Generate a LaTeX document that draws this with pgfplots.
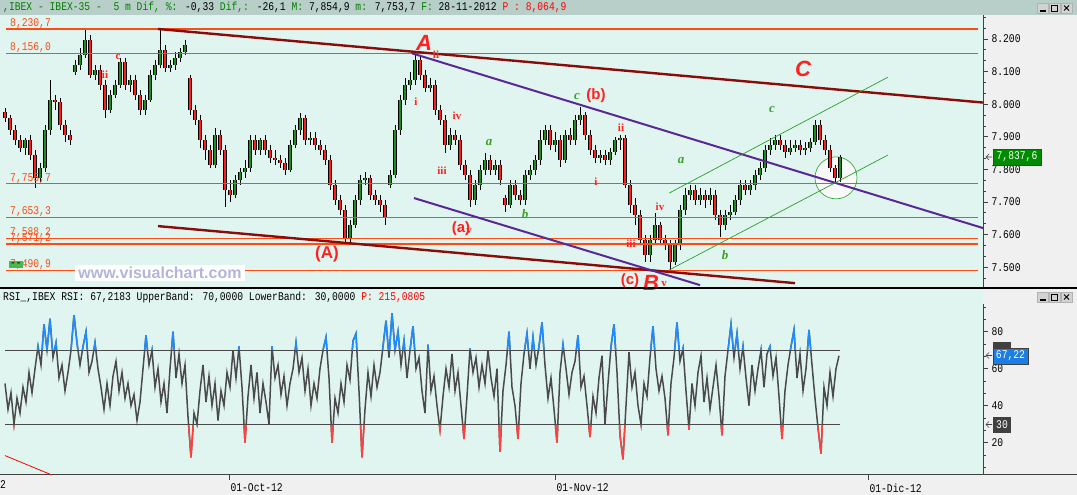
\documentclass[border=0pt]{standalone}
\usepackage{fontspec}
\setmainfont{Liberation Sans}
\newfontfamily\vc[FakeStretch=0.82]{Liberation Mono}
\newfontfamily\serifb{Liberation Serif}
\usepackage{pgfplots}
\pgfplotsset{compat=1.18}
\usepackage{pgfplotstable}

\definecolor{mint}{HTML}{E0F5EF}
\definecolor{panelgray}{HTML}{F0F0F0}
\definecolor{titlebar}{HTML}{B8CEC8}
\definecolor{vcgreen}{HTML}{008000}
\definecolor{lineorange}{HTML}{FF4A14}
\definecolor{maroonline}{HTML}{8B0A0A}
\definecolor{purpleline}{HTML}{5A2896}
\definecolor{chgreen}{HTML}{2AA02A}
\definecolor{candlered}{HTML}{FF1E1E}
\definecolor{candlegreen}{HTML}{1E8C1E}
\definecolor{rsigray}{HTML}{4A4A4A}
\definecolor{rsiblue}{HTML}{1E8CFF}
\definecolor{rsired}{HTML}{FF4040}
\definecolor{wavered}{HTML}{FF2020}
\definecolor{wavegreen}{HTML}{3AA02A}
\definecolor{axisgray}{HTML}{404040}
\definecolor{watermark}{HTML}{B2B5DA}

\newcommand\vcfont{\vc\fontsize{11.8}{12}\selectfont}
\newcommand\wbig{\fontsize{22}{22}\selectfont\bfseries\itshape}
\newcommand\wmid{\fontsize{15}{15}\selectfont\bfseries}
\newcommand\wrom{\serifb\fontsize{11}{11}\selectfont\bfseries}
\newcommand\wgrn{\serifb\fontsize{13}{13}\selectfont\bfseries\itshape}

% 5 m candles: x (px), open, high, low, close
\pgfplotstableread{
x o h l c
5 7.976 7.988 7.945 7.958
10 7.958 7.967 7.905 7.921
15 7.921 7.936 7.875 7.890
20 7.890 7.905 7.853 7.866
25 7.866 7.896 7.844 7.890
30 7.890 7.905 7.829 7.844
35 7.844 7.859 7.743 7.774
40 7.774 7.820 7.761 7.804
45 7.804 7.936 7.792 7.921
50 7.921 8.074 7.905 8.013
55 8.013 8.028 7.982 8.007
60 8.007 8.019 7.921 7.936
65 7.936 7.951 7.884 7.905
70 7.905 7.921 7.875 7.890
75 8.099 8.135 8.090 8.120
80 8.120 8.172 8.105 8.151
85 8.151 8.228 8.142 8.197
90 8.197 8.212 8.080 8.090
95 8.090 8.120 8.074 8.105
100 8.105 8.120 8.043 8.059
105 8.059 8.074 7.958 7.982
110 7.982 8.043 7.973 8.028
115 8.028 8.074 8.019 8.059
120 8.059 8.142 8.050 8.129
125 8.129 8.142 8.043 8.059
130 8.059 8.090 8.037 8.074
135 8.074 8.090 8.013 8.028
140 8.028 8.043 7.967 7.982
145 7.982 8.028 7.967 8.013
150 8.013 8.105 8.007 8.090
155 8.090 8.135 8.074 8.120
160 8.120 8.228 8.111 8.166
165 8.166 8.182 8.099 8.111
170 8.111 8.135 8.099 8.120
175 8.120 8.160 8.105 8.142
180 8.142 8.172 8.129 8.160
185 8.160 8.197 8.151 8.182
190 8.080 8.090 7.967 7.982
195 7.982 7.998 7.936 7.951
200 7.951 7.967 7.866 7.890
205 7.890 7.905 7.829 7.859
210 7.859 7.875 7.804 7.813
215 7.813 7.927 7.804 7.905
220 7.905 7.921 7.844 7.859
225 7.859 7.875 7.685 7.737
230 7.737 7.767 7.700 7.721
235 7.721 7.783 7.712 7.767
240 7.767 7.804 7.752 7.792
245 7.792 7.829 7.774 7.804
250 7.804 7.905 7.792 7.890
255 7.890 7.905 7.844 7.859
260 7.859 7.896 7.844 7.890
265 7.890 7.905 7.844 7.859
270 7.859 7.875 7.820 7.835
275 7.835 7.859 7.813 7.829
280 7.829 7.844 7.804 7.820
285 7.820 7.835 7.783 7.798
290 7.798 7.890 7.792 7.875
295 7.875 7.936 7.866 7.921
300 7.921 7.973 7.905 7.958
305 7.958 7.967 7.875 7.890
310 7.890 7.915 7.875 7.896
315 7.896 7.915 7.859 7.875
320 7.875 7.890 7.844 7.859
325 7.859 7.875 7.813 7.829
330 7.829 7.844 7.737 7.752
335 7.752 7.767 7.691 7.706
340 7.706 7.721 7.660 7.675
345 7.675 7.691 7.574 7.589
350 7.589 7.645 7.574 7.629
355 7.629 7.721 7.620 7.706
360 7.706 7.783 7.691 7.767
365 7.767 7.792 7.752 7.774
370 7.774 7.783 7.706 7.721
375 7.721 7.737 7.691 7.706
380 7.706 7.721 7.669 7.691
385 7.691 7.706 7.629 7.651
390 7.752 7.798 7.743 7.783
395 7.783 7.936 7.774 7.921
400 7.921 8.028 7.905 8.013
405 8.013 8.080 7.998 8.059
410 8.059 8.099 8.043 8.074
415 8.074 8.160 8.059 8.135
420 8.135 8.151 8.074 8.090
425 8.090 8.105 8.037 8.050
430 8.050 8.080 8.037 8.059
435 8.059 8.074 7.967 7.982
440 7.982 7.998 7.936 7.951
445 7.951 7.967 7.850 7.875
450 7.875 7.927 7.859 7.905
455 7.905 7.921 7.875 7.890
460 7.890 7.905 7.798 7.813
465 7.813 7.829 7.767 7.783
470 7.783 7.798 7.685 7.706
475 7.706 7.767 7.691 7.752
480 7.752 7.813 7.737 7.798
485 7.798 7.850 7.783 7.829
490 7.829 7.844 7.783 7.798
495 7.798 7.829 7.783 7.813
500 7.813 7.829 7.752 7.767
505 7.712 7.721 7.669 7.691
510 7.691 7.767 7.681 7.752
515 7.752 7.767 7.706 7.721
520 7.721 7.737 7.691 7.706
525 7.706 7.798 7.691 7.783
530 7.783 7.813 7.767 7.798
535 7.798 7.844 7.783 7.829
540 7.829 7.921 7.813 7.890
545 7.890 7.936 7.875 7.921
550 7.921 7.936 7.859 7.875
555 7.875 7.915 7.853 7.890
560 7.890 7.905 7.807 7.829
565 7.829 7.921 7.820 7.905
570 7.905 7.927 7.875 7.890
575 7.890 7.967 7.875 7.951
580 7.951 7.991 7.936 7.967
585 7.967 7.976 7.890 7.905
590 7.905 7.921 7.844 7.859
595 7.859 7.875 7.820 7.835
600 7.835 7.859 7.820 7.844
605 7.844 7.859 7.813 7.829
610 7.829 7.866 7.813 7.853
615 7.853 7.899 7.844 7.890
620 7.890 7.905 7.859 7.896
625 7.896 7.905 7.743 7.752
630 7.752 7.767 7.666 7.691
635 7.691 7.712 7.629 7.660
640 7.660 7.675 7.568 7.583
645 7.583 7.599 7.516 7.537
650 7.537 7.599 7.516 7.583
655 7.583 7.666 7.568 7.629
660 7.629 7.639 7.568 7.583
665 7.583 7.599 7.553 7.568
670 7.568 7.583 7.491 7.516
675 7.516 7.583 7.507 7.568
680 7.568 7.691 7.553 7.675
685 7.675 7.743 7.660 7.721
690 7.721 7.752 7.706 7.737
695 7.737 7.752 7.691 7.706
700 7.706 7.743 7.691 7.721
705 7.721 7.737 7.681 7.706
710 7.706 7.743 7.691 7.721
715 7.721 7.737 7.645 7.660
720 7.660 7.675 7.593 7.629
725 7.629 7.675 7.614 7.660
730 7.660 7.691 7.645 7.669
735 7.669 7.721 7.660 7.706
740 7.706 7.767 7.691 7.752
745 7.752 7.767 7.721 7.737
750 7.737 7.767 7.721 7.752
755 7.752 7.798 7.737 7.783
760 7.783 7.823 7.767 7.804
765 7.804 7.875 7.792 7.859
770 7.859 7.896 7.844 7.875
775 7.875 7.905 7.859 7.890
780 7.890 7.905 7.859 7.875
785 7.875 7.890 7.835 7.853
790 7.853 7.890 7.844 7.866
795 7.866 7.890 7.853 7.875
800 7.875 7.890 7.844 7.859
805 7.859 7.884 7.844 7.866
810 7.866 7.896 7.853 7.884
815 7.884 7.951 7.875 7.936
820 7.936 7.951 7.875 7.890
825 7.890 7.905 7.844 7.859
830 7.859 7.875 7.792 7.804
835 7.804 7.813 7.761 7.774
840 7.774 7.844 7.761 7.838
}\candles

% RSI, one value every 3 px from x = 5
\pgfplotstableread[row sep=\\]{
r\\
52\\38\\47\\30\\44\\36\\50\\42\\58\\47\\
60\\72\\62\\84\\70\\87\\66\\74\\55\\62\\
48\\58\\70\\89\\74\\62\\72\\80\\58\\64\\
74\\60\\50\\38\\52\\40\\56\\64\\48\\58\\
44\\52\\40\\46\\32\\42\\60\\78\\62\\70\\
50\\60\\42\\52\\36\\60\\80\\55\\68\\52\\
62\\34\\12\\36\\30\\48\\62\\42\\56\\40\\
52\\32\\48\\40\\58\\50\\70\\55\\72\\50\\
20\\45\\62\\44\\58\\36\\52\\42\\30\\72\\
55\\62\\46\\56\\40\\52\\60\\74\\58\\66\\
48\\60\\40\\52\\44\\60\\70\\77\\55\\20\\
44\\36\\52\\42\\62\\54\\75\\79\\48\\12\\
38\\58\\45\\62\\50\\58\\72\\86\\66\\90\\
70\\80\\62\\75\\55\\70\\83\\60\\66\\48\\
36\\73\\48\\56\\40\\27\\45\\60\\50\\68\\
48\\58\\40\\22\\45\\71\\58\\66\\50\\62\\
52\\70\\55\\45\\60\\15\\48\\62\\80\\50\\
40\\22\\52\\68\\79\\60\\77\\62\\72\\85\\
62\\44\\55\\38\\20\\58\\73\\60\\46\\58\\
64\\78\\50\\56\\40\\23\\45\\36\\55\\67\\
30\\52\\72\\84\\58\\24\\11\\40\\69\\50\\
58\\40\\30\\52\\45\\66\\83\\60\\48\\56\\
44\\24\\52\\66\\85\\64\\71\\48\\27\\52\\
40\\58\\67\\42\\55\\38\\50\\62\\45\\24\\
56\\70\\84\\66\\79\\60\\72\\55\\40\\62\\
48\\60\\70\\50\\68\\72\\56\\66\\45\\22\\
48\\62\\72\\81\\55\\68\\48\\60\\81\\62\\
44\\28\\14\\50\\40\\58\\45\\60\\67\\
}\rsi

\begin{document}
\begin{tikzpicture}
\useasboundingbox (0pt,0pt) rectangle (1077pt,495pt);
\begin{scope}[x=1pt,y=1pt]
\fill[panelgray] (0,0) rectangle (1077,495);
\fill[titlebar] (0,480) rectangle (1077,495);
\fill[mint] (0,208) rectangle (983,480);
\fill[mint] (0,20) rectangle (983,206);
\end{scope}

% price panel
\begin{axis}[
  at={(0pt,208pt)}, anchor=south west,
  width=983pt, height=272pt, scale only axis,
  xmin=0, xmax=983, ymin=7.4392, ymax=8.2736,
  axis x line=none, axis y line*=right,
  axis line style={axisgray, line width=1pt},
  xtick=\empty,
  ytick={7.4,7.5,7.6,7.7,7.8,7.9,8.0,8.1,8.2,8.3}, minor y tick num=2,
  tick align=outside, major tick length=5pt, minor tick length=3pt,
  tick style={axisgray, line width=0.8pt},
  yticklabel style={font=\vcfont, text=black,
    /pgf/number format/fixed, /pgf/number format/fixed zerofill,
    /pgf/number format/precision=3, /pgf/number format/assume math mode=true},
  clip=false]

\draw[chgreen, line width=0.6pt, fill=white!95!gray] (axis cs:836,7.774) circle[radius=21pt];

% candles
\addplot[draw=none, mark=none, error bars/.cd, y dir=minus, y explicit, error mark=none,
  error bar style={line width=0.8pt, black}]
  table[x=x, y=h, y error minus expr=\thisrow{h}-\thisrow{l}] {\candles};
\addplot[draw=none, mark=none, restrict expr to domain={\thisrow{c}-\thisrow{o}}{0:1},
  error bars/.cd, y dir=plus, y explicit, error mark=none,
  error bar style={line width=4.2pt, black}]
  table[x=x, y=o, y error plus expr=\thisrow{c}-\thisrow{o}] {\candles};
\addplot[draw=none, mark=none, restrict expr to domain={\thisrow{c}-\thisrow{o}}{0:1},
  error bars/.cd, y dir=plus, y explicit, error mark=none,
  error bar style={line width=2.6pt, candlegreen}]
  table[x=x, y=o, y error plus expr=\thisrow{c}-\thisrow{o}] {\candles};
\addplot[draw=none, mark=none, restrict expr to domain={\thisrow{c}-\thisrow{o}}{-1:0},
  error bars/.cd, y dir=plus, y explicit, error mark=none,
  error bar style={line width=4.2pt, black}]
  table[x=x, y=c, y error plus expr=\thisrow{o}-\thisrow{c}] {\candles};
\addplot[draw=none, mark=none, restrict expr to domain={\thisrow{c}-\thisrow{o}}{-1:0},
  error bars/.cd, y dir=plus, y explicit, error mark=none,
  error bar style={line width=2.6pt, candlered}]
  table[x=x, y=c, y error plus expr=\thisrow{o}-\thisrow{c}] {\candles};

% support / resistance levels
\addplot[lineorange, line width=1.1pt] coordinates {(6,8.2307) (978,8.2307)};
\addplot[lineorange, line width=1.1pt] coordinates {(6,8.1560) (978,8.1560)};
\addplot[lineorange, line width=1.1pt] coordinates {(6,7.7557) (978,7.7557)};
\addplot[lineorange, line width=1.1pt] coordinates {(6,7.6533) (978,7.6533)};
\addplot[lineorange, line width=1.1pt] coordinates {(6,7.5882) (978,7.5882)};
\addplot[lineorange, line width=1.1pt] coordinates {(6,7.5712) (978,7.5712)};
\addplot[lineorange, line width=1.1pt] coordinates {(6,7.4909) (978,7.4909)};

% trend lines
\addplot[maroonline, line width=2.4pt] coordinates {(158,8.2307) (983,8.005)};
\addplot[maroonline, line width=2.4pt] coordinates {(158,7.626) (795,7.451)};
\addplot[purpleline, line width=2pt] coordinates {(412,8.156) (983,7.620)};
\addplot[purpleline, line width=2pt] coordinates {(414,7.712) (700,7.445)};
\addplot[chgreen, line width=0.7pt] coordinates {(669,7.727) (888,8.083)};
\addplot[chgreen, line width=0.7pt] coordinates {(669,7.491) (888,7.844)};

% level labels
\node[anchor=base west, inner sep=0pt, text=lineorange, font=\vcfont, yshift=2.5pt] at (axis cs:10,8.2307) {8,230,7};
\node[anchor=base west, inner sep=0pt, text=lineorange, font=\vcfont, yshift=2.5pt] at (axis cs:10,8.1560) {8,156,0};
\node[anchor=base west, inner sep=0pt, text=lineorange, font=\vcfont, yshift=2.5pt] at (axis cs:10,7.7557) {7,755,7};
\node[anchor=base west, inner sep=0pt, text=lineorange, font=\vcfont, yshift=2.5pt] at (axis cs:10,7.6533) {7,653,3};
\node[anchor=base west, inner sep=0pt, text=lineorange, font=\vcfont, yshift=2.5pt] at (axis cs:10,7.5882) {7,588,2};
\node[anchor=base west, inner sep=0pt, text=lineorange, font=\vcfont, yshift=2.5pt] at (axis cs:10,7.5712) {7,571,2};
\node[anchor=base west, inner sep=0pt, text=lineorange, font=\vcfont, yshift=2.5pt] at (axis cs:10,7.4909) {7,490,9};

% wave labels
\node[text=wavered, font=\wbig] at (axis cs:424,8.188) {A};
\node[text=wavered, font=\wrom] at (axis cs:436,8.153) {ii};
\node[text=wavered, font=\wbig] at (axis cs:803,8.108) {C};
\node[text=wavered, font=\wbig] at (axis cs:651,7.452) {B};
\node[text=wavered, font=\wmid] at (axis cs:630,7.458) {(c)};
\node[text=wavered, font=\wrom] at (axis cs:664,7.449) {v};
\node[text=wavered, font=\fontsize{17}{17}\selectfont\bfseries] at (axis cs:327,7.540) {(A)};
\node[text=wavegreen, font=\wgrn] at (axis cs:577,8.025) {c};
\node[text=wavered, font=\wmid] at (axis cs:596,8.025) {(b)};
\node[text=wavered, font=\wrom] at (axis cs:416,8.007) {i};
\node[text=wavered, font=\wrom] at (axis cs:457,7.964) {iv};
\node[text=wavered, font=\wrom] at (axis cs:442,7.795) {iii};
\node[text=wavegreen, font=\wgrn] at (axis cs:489,7.881) {a};
\node[text=wavered, font=\wmid] at (axis cs:461,7.617) {(a)};
\node[text=wavered, font=\wrom] at (axis cs:469,7.612) {v};
\node[text=wavegreen, font=\wgrn] at (axis cs:525,7.663) {b};
\node[text=wavered, font=\wrom] at (axis cs:621,7.927) {ii};
\node[text=wavered, font=\wrom] at (axis cs:596,7.761) {i};
\node[text=wavered, font=\wrom] at (axis cs:660,7.685) {iv};
\node[text=wavered, font=\wrom] at (axis cs:631,7.571) {iii};
\node[text=wavegreen, font=\wgrn] at (axis cs:681,7.826) {a};
\node[text=wavegreen, font=\wgrn] at (axis cs:725,7.537) {b};
\node[text=wavegreen, font=\wgrn] at (axis cs:772,7.985) {c};
\node[text=wavered, font=\wrom] at (axis cs:118,8.145) {c};
\node[text=wavered, font=\wrom] at (axis cs:105,8.090) {ii};
\end{axis}

% RSI panel
\begin{axis}[
  at={(0pt,20pt)}, anchor=south west,
  width=983pt, height=171pt, scale only axis,
  xmin=0, xmax=983, ymin=2.5, ymax=95,
  axis x line*=bottom, axis y line*=right,
  axis line style={axisgray, line width=1pt},
  xtick={229,555,868}, xticklabels={01-Oct-12,01-Nov-12,01-Dic-12},
  ytick={0,20,40,60,80,100}, minor y tick num=2,
  tick align=outside, major tick length=5pt, minor tick length=3pt,
  tick style={axisgray, line width=0.8pt},
  xticklabel style={font=\vcfont, text=black, anchor=north west, xshift=-2pt},
  yticklabel style={font=\vcfont, text=black, /pgf/number format/assume math mode=true}]
\addplot[rsigray, line width=1.5pt] table[x expr=5+3*\coordindex, y=r] {\rsi};
\addplot[red, line width=0.8pt] coordinates {(5,13) (51,2.7)};
\end{axis}

% overbought part of RSI (clipped to 70..95)
\begin{axis}[
  at={(0pt,144.8pt)}, anchor=south west,
  width=983pt, height=46.2pt, scale only axis,
  xmin=0, xmax=983, ymin=70, ymax=95, hide axis]
\addplot[rsiblue, line width=1.5pt] table[x expr=5+3*\coordindex, y=r] {\rsi};
\end{axis}

% oversold part of RSI (clipped to 2.5..30)
\begin{axis}[
  at={(0pt,20pt)}, anchor=south west,
  width=983pt, height=50.8pt, scale only axis,
  xmin=0, xmax=983, ymin=2.5, ymax=30, hide axis]
\addplot[rsired, line width=1.5pt] table[x expr=5+3*\coordindex, y=r] {\rsi};
\end{axis}

% bands
\begin{axis}[
  at={(0pt,20pt)}, anchor=south west,
  width=983pt, height=171pt, scale only axis,
  xmin=0, xmax=983, ymin=2.5, ymax=95, hide axis]
\addplot[rsigray, line width=1pt] coordinates {(5,70) (840,70)};
\addplot[rsigray, line width=1pt] coordinates {(5,30) (840,30)};
\end{axis}

\begin{scope}[x=1pt,y=1pt]
\draw[black, line width=1.5pt] (0,207) -- (1077,207);
\draw[axisgray, line width=1pt] (983,20) -- (1077,20);
% title bars
\node[anchor=west, inner sep=0pt, font=\vcfont] at (3,487.5) {\color{vcgreen},IBEX - IBEX-35 -\ \ 5 m Dif, \%: \color{black}-0,33 \color{vcgreen}Dif,: \color{black}-26,1 \color{vcgreen}M: \color{black}7,854,9 \color{vcgreen}m: \color{black}7,753,7 \color{vcgreen}F: \color{black}28-11-2012 \color{red}P : 8,064,9};
\node[anchor=west, inner sep=0pt, font=\vcfont] at (3,198) {RSI\_,IBEX RSI: 67,2183 UpperBand: 70,0000 LowerBand: 30,0000 \color{red}P: 215,0805};
% watermark
\fill[white] (75,214) rectangle (245,230);
\node[text=watermark, font=\fontsize{16}{16}\selectfont\bfseries] at (160,222) {www.visualchart.com};
\fill[green!60!black!70] (9,227) rectangle (23,234);
\node[font=\vcfont, inner sep=0pt] at (16,230.5) {--};
% last value boxes
\draw[axisgray, line width=0.6pt] (992,338) -- (986,338) (989,341) -- (986,338) -- (989,335);
\fill[green!55!black, draw=axisgray] (993,330) rectangle (1041,346);
\node[text=white, font=\vcfont] at (1017,338) {7,837,6};
\fill[axisgray] (993,143) rectangle (1011,153);
\draw[axisgray, line width=0.6pt] (992,139.5) -- (986,139.5) (989,142.5) -- (986,139.5) -- (989,136.5);
\fill[rsiblue!90!black, draw=axisgray] (993,131) rectangle (1028,147);
\node[text=white, font=\vcfont] at (1010.5,139) {67,22};
\draw[axisgray, line width=0.6pt] (992,70.5) -- (986,70.5) (989,73.5) -- (986,70.5) -- (989,67.5);
\fill[axisgray] (993,62) rectangle (1011,78);
\node[text=white, font=\vcfont] at (1002,70) {30};
% window buttons
\foreach \yb in {482,193}{
  \foreach \xb in {1037,1049,1061}{
    \fill[gray!35, draw=gray!60] (\xb,\yb) rectangle (\xb+11,\yb+10);
  }
  \draw[black, line width=1.2pt] (1039.5,\yb+2) -- (1045.5,\yb+2);
  \draw[black, line width=0.9pt] (1051.5,\yb+2) rectangle (1057.5,\yb+8);
  \draw[black, line width=1pt] (1064,\yb+2.5) -- (1069,\yb+7.5) (1064,\yb+7.5) -- (1069,\yb+2.5);
}
\node[anchor=north west, inner sep=0pt, font=\vcfont] at (0,15) {2};
\end{scope}
\end{tikzpicture}
\end{document}
